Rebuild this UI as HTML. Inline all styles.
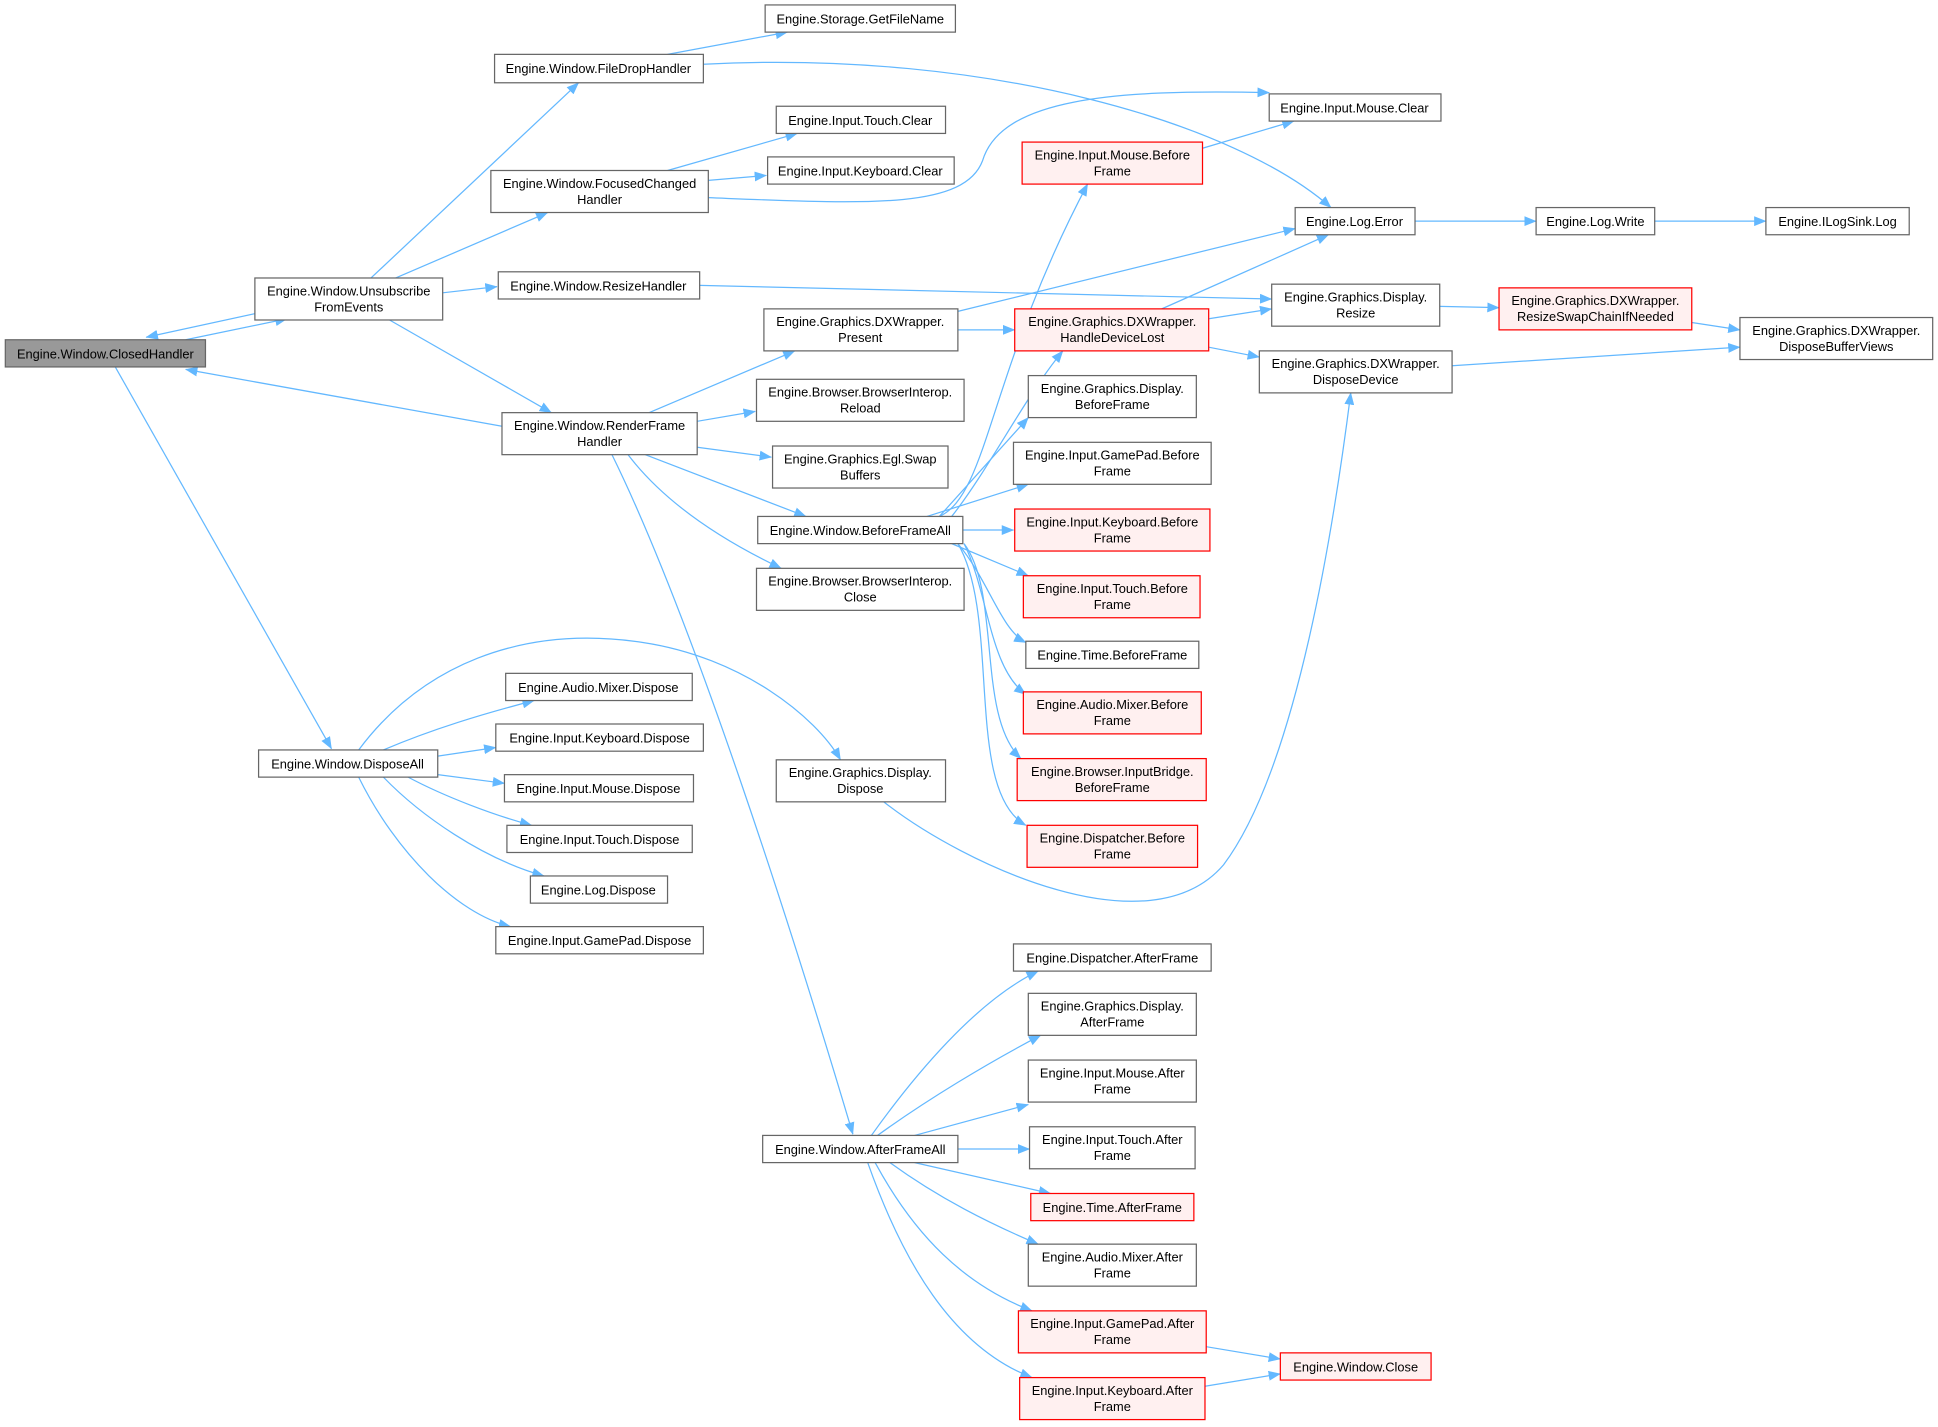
<!DOCTYPE html>
<html><head><meta charset="utf-8"><style>
html,body{margin:0;padding:0;background:#fff;}
svg{display:block;}
text{font-family:"Liberation Sans",Arial,sans-serif;font-size:10.4px;fill:#000;text-anchor:middle;}
.n{fill:#fff;stroke:#666;stroke-width:1;}
.r{fill:#fff0f0;stroke:#f00;stroke-width:1;}
.g{fill:#999;stroke:#666;stroke-width:1;}
path{fill:none;stroke:#63b8ff;stroke-width:1;}
</style></head><body>
<svg width="1938" height="1427" viewBox="0 0 1568 1155" xmlns="http://www.w3.org/2000/svg">
<defs><marker id="a" markerWidth="10" markerHeight="8" refX="9.5" refY="4" orient="auto" markerUnits="userSpaceOnUse"><polygon points="0,0 10,4 0,8" fill="#63b8ff"/></marker></defs>
<g marker-end="url(#a)">
<path d="M210,253 L118,273"/>
<path d="M150,275 L232,258"/>
<path d="M406,345 L150,299"/>
<path d="M93,297 L268,606"/>
<path d="M300,225 L468,67"/>
<path d="M320,225 L443,172"/>
<path d="M358,237 L402,232"/>
<path d="M315,259 L446,334"/>
<path d="M540,44 L637,26"/>
<path d="M569,52 C800,40 1000,100 1077,168"/>
<path d="M540,138 L645,108"/>
<path d="M573,146 L620,142"/>
<path d="M573,160 C700,165 780,170 795,130 C810,80 900,72 1027,75"/>
<path d="M566,231 L1029,242"/>
<path d="M525,334 L643,284"/>
<path d="M564,341 L611,333"/>
<path d="M564,362 L624,370"/>
<path d="M522,368 L652,418"/>
<path d="M508,368 C540,410 590,440 632,460"/>
<path d="M495,368 C560,500 640,750 690,918"/>
<path d="M775,252 L1048,185"/>
<path d="M775,267 L821,267"/>
<path d="M940,250 L1075,190"/>
<path d="M978,258 L1029,250"/>
<path d="M978,281 L1019,289"/>
<path d="M973,120 L1047,98"/>
<path d="M1145,179 L1243,179"/>
<path d="M1339,179 L1429,179"/>
<path d="M1165,248 L1213,249"/>
<path d="M1369,261 L1408,267"/>
<path d="M1175,296 L1408,281"/>
<path d="M715,649 C780,700 930,770 990,700 C1050,620 1080,420 1093,318"/>
<path d="M760,418 C800,400 800,300 880,149"/>
<path d="M770,418 C800,380 830,320 860,284"/>
<path d="M760,418 L832,338"/>
<path d="M750,418 L832,392"/>
<path d="M779,429 L820,429"/>
<path d="M770,440 L832,466"/>
<path d="M775,440 C800,470 810,510 830,520"/>
<path d="M780,440 C800,480 800,540 830,562"/>
<path d="M780,440 C810,480 790,580 826,614"/>
<path d="M775,440 C810,500 780,640 830,668"/>
<path d="M290,607 C340,540 420,505 520,520 C600,532 660,580 680,615"/>
<path d="M310,607 C350,590 390,578 432,567"/>
<path d="M354,612 L401,605"/>
<path d="M354,627 L408,634"/>
<path d="M330,629 C360,645 400,660 430,668"/>
<path d="M310,629 C340,660 390,695 440,709"/>
<path d="M290,629 C320,690 370,740 413,750"/>
<path d="M705,919 C740,870 790,810 840,786"/>
<path d="M710,919 C750,890 800,860 842,838"/>
<path d="M740,919 L832,894"/>
<path d="M775,930 L833,930"/>
<path d="M740,941 L850,966"/>
<path d="M720,941 C760,970 800,990 840,1007"/>
<path d="M708,941 C740,1000 780,1040 835,1061"/>
<path d="M702,941 C730,1020 770,1090 835,1115"/>
<path d="M976,1090 L1036,1100"/>
<path d="M975,1122 L1036,1112"/>
</g>
<!-- nodes -->
<rect class="g" x="4" y="275" width="162" height="22"/><text x="85" y="290">Engine.Window.ClosedHandler</text>
<rect class="n" x="206" y="225" width="152" height="34"/><text x="282" y="239">Engine.Window.Unsubscribe</text><text x="282" y="252">FromEvents</text>
<rect class="n" x="209" y="607" width="145" height="22"/><text x="281" y="622">Engine.Window.DisposeAll</text>
<rect class="n" x="400" y="44" width="169" height="23"/><text x="484" y="59">Engine.Window.FileDropHandler</text>
<rect class="n" x="397" y="138" width="176" height="34"/><text x="485" y="152">Engine.Window.FocusedChanged</text><text x="485" y="165">Handler</text>
<rect class="n" x="403" y="220" width="163" height="22"/><text x="484" y="235">Engine.Window.ResizeHandler</text>
<rect class="n" x="406" y="334" width="158" height="34"/><text x="485" y="348">Engine.Window.RenderFrame</text><text x="485" y="361">Handler</text>
<rect class="n" x="617" y="919" width="158" height="22"/><text x="696" y="934">Engine.Window.AfterFrameAll</text>
<rect class="n" x="619" y="4" width="154" height="22"/><text x="696" y="19">Engine.Storage.GetFileName</text>
<rect class="n" x="628" y="86" width="137" height="22"/><text x="696" y="101">Engine.Input.Touch.Clear</text>
<rect class="n" x="621" y="127" width="151" height="22"/><text x="696" y="142">Engine.Input.Keyboard.Clear</text>
<rect class="n" x="618" y="250" width="157" height="34"/><text x="696" y="264">Engine.Graphics.DXWrapper.</text><text x="696" y="277">Present</text>
<rect class="n" x="612" y="307" width="168" height="34"/><text x="696" y="321">Engine.Browser.BrowserInterop.</text><text x="696" y="334">Reload</text>
<rect class="n" x="625" y="361" width="142" height="34"/><text x="696" y="375">Engine.Graphics.Egl.Swap</text><text x="696" y="388">Buffers</text>
<rect class="n" x="613" y="418" width="166" height="22"/><text x="696" y="433">Engine.Window.BeforeFrameAll</text>
<rect class="n" x="612" y="460" width="168" height="34"/><text x="696" y="474">Engine.Browser.BrowserInterop.</text><text x="696" y="487">Close</text>
<rect class="n" x="409" y="545" width="151" height="22"/><text x="484" y="560">Engine.Audio.Mixer.Dispose</text>
<rect class="n" x="401" y="586" width="168" height="22"/><text x="485" y="601">Engine.Input.Keyboard.Dispose</text>
<rect class="n" x="408" y="627" width="153" height="22"/><text x="484" y="642">Engine.Input.Mouse.Dispose</text>
<rect class="n" x="410" y="668" width="150" height="22"/><text x="485" y="683">Engine.Input.Touch.Dispose</text>
<rect class="n" x="429" y="709" width="111" height="22"/><text x="484" y="724">Engine.Log.Dispose</text>
<rect class="n" x="401" y="750" width="168" height="22"/><text x="485" y="765">Engine.Input.GamePad.Dispose</text>
<rect class="n" x="628" y="615" width="137" height="34"/><text x="696" y="629">Engine.Graphics.Display.</text><text x="696" y="642">Dispose</text>
<rect class="r" x="827" y="115" width="146" height="34"/><text x="900" y="129">Engine.Input.Mouse.Before</text><text x="900" y="142">Frame</text>
<rect class="r" x="821" y="250" width="157" height="34"/><text x="900" y="264">Engine.Graphics.DXWrapper.</text><text x="900" y="277">HandleDeviceLost</text>
<rect class="n" x="832" y="304" width="136" height="34"/><text x="900" y="318">Engine.Graphics.Display.</text><text x="900" y="331">BeforeFrame</text>
<rect class="n" x="820" y="358" width="160" height="34"/><text x="900" y="372">Engine.Input.GamePad.Before</text><text x="900" y="385">Frame</text>
<rect class="r" x="821" y="412" width="158" height="34"/><text x="900" y="426">Engine.Input.Keyboard.Before</text><text x="900" y="439">Frame</text>
<rect class="r" x="828" y="466" width="143" height="34"/><text x="900" y="480">Engine.Input.Touch.Before</text><text x="900" y="493">Frame</text>
<rect class="n" x="830" y="519" width="140" height="22"/><text x="900" y="534">Engine.Time.BeforeFrame</text>
<rect class="r" x="828" y="560" width="144" height="34"/><text x="900" y="574">Engine.Audio.Mixer.Before</text><text x="900" y="587">Frame</text>
<rect class="r" x="823" y="614" width="153" height="34"/><text x="900" y="628">Engine.Browser.InputBridge.</text><text x="900" y="641">BeforeFrame</text>
<rect class="r" x="831" y="668" width="138" height="34"/><text x="900" y="682">Engine.Dispatcher.Before</text><text x="900" y="695">Frame</text>
<rect class="n" x="820" y="764" width="160" height="22"/><text x="900" y="779">Engine.Dispatcher.AfterFrame</text>
<rect class="n" x="832" y="804" width="136" height="34"/><text x="900" y="818">Engine.Graphics.Display.</text><text x="900" y="831">AfterFrame</text>
<rect class="n" x="832" y="858" width="136" height="34"/><text x="900" y="872">Engine.Input.Mouse.After</text><text x="900" y="885">Frame</text>
<rect class="n" x="833" y="912" width="134" height="34"/><text x="900" y="926">Engine.Input.Touch.After</text><text x="900" y="939">Frame</text>
<rect class="r" x="834" y="966" width="132" height="22"/><text x="900" y="981">Engine.Time.AfterFrame</text>
<rect class="n" x="832" y="1007" width="136" height="34"/><text x="900" y="1021">Engine.Audio.Mixer.After</text><text x="900" y="1034">Frame</text>
<rect class="r" x="824" y="1061" width="152" height="34"/><text x="900" y="1075">Engine.Input.GamePad.After</text><text x="900" y="1088">Frame</text>
<rect class="r" x="825" y="1115" width="150" height="34"/><text x="900" y="1129">Engine.Input.Keyboard.After</text><text x="900" y="1142">Frame</text>
<rect class="r" x="1036" y="1095" width="122" height="22"/><text x="1097" y="1110">Engine.Window.Close</text>
<rect class="n" x="1027" y="76" width="139" height="22"/><text x="1096" y="91">Engine.Input.Mouse.Clear</text>
<rect class="n" x="1048" y="168" width="97" height="22"/><text x="1096" y="183">Engine.Log.Error</text>
<rect class="n" x="1029" y="230" width="136" height="34"/><text x="1097" y="244">Engine.Graphics.Display.</text><text x="1097" y="257">Resize</text>
<rect class="n" x="1019" y="284" width="156" height="34"/><text x="1097" y="298">Engine.Graphics.DXWrapper.</text><text x="1097" y="311">DisposeDevice</text>
<rect class="n" x="1243" y="168" width="96" height="22"/><text x="1291" y="183">Engine.Log.Write</text>
<rect class="n" x="1429" y="168" width="116" height="22"/><text x="1487" y="183">Engine.ILogSink.Log</text>
<rect class="r" x="1213" y="233" width="156" height="34"/><text x="1291" y="247">Engine.Graphics.DXWrapper.</text><text x="1291" y="260">ResizeSwapChainIfNeeded</text>
<rect class="n" x="1408" y="257" width="156" height="34"/><text x="1486" y="271">Engine.Graphics.DXWrapper.</text><text x="1486" y="284">DisposeBufferViews</text>
</svg>
</body></html>
